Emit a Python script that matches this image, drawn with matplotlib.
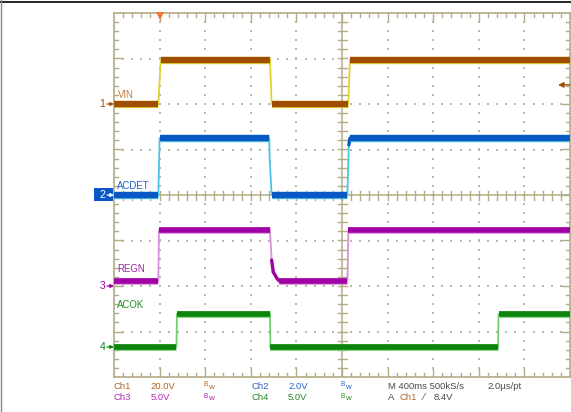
import matplotlib
matplotlib.use('Agg')
import matplotlib.pyplot as plt
import matplotlib.patheffects as pe
from matplotlib.lines import Line2D
from matplotlib.patches import Rectangle
import numpy as np

W, H, DPI = 571, 412, 100
plt.rcParams['font.family'] = ['Liberation Sans', 'DejaVu Sans']

# ---------------- data (time in ms from trigger, volts) ----------------
vin_t = [-400, -11, 10, 968, 983, 1655, 1670, 3600]
vin_v = [0.0, 0.0, 19.5, 19.5, 0.0, 0.0, 19.5, 19.5]

acdet_t = [-400, -11, 0, 962, 966, 983, 1647, 1660, 1670, 3600]
acdet_v = [0.0, 0.0, 2.5, 2.5, 1.5, 0.0, 0.0, 2.2, 2.5, 2.5]

regn_t = [-400, -11, -6, 968, 983, 997, 1027, 1045, 1648, 1656, 3600]
regn_v = [0.55, 0.55, 6.1, 6.1, 2.85, 1.55, 0.88, 0.6, 0.6, 6.1, 6.1]

acok_t = [-400, 148, 152, 968, 972, 2969, 2973, 3600]
acok_v = [0.0, 0.0, 3.6, 3.6, 0.0, 0.0, 3.6, 3.6]

channel_names = ["VIN", "ACDET", "REGN", "ACOK"]
volts_per_div = [20.0, 2.0, 5.0, 5.0]
offset_div = [2.0, 0.0, -2.0, -3.34]
trigger_level_v = 8.4
time_per_div_ms = 400.0

# --------------------------- figure ------------------------------------
fig = plt.figure(figsize=(W / DPI, H / DPI), dpi=DPI, facecolor='white')
L, R, T, B = 114, 570, 13, 377
ax = fig.add_axes([L / W, (H - B) / H, (R - L) / W, (B - T) / H])
ax.set_xlim(-400, 3600)
ax.set_ylim(-4, 4)
ax.set_xticks([]); ax.set_yticks([])
ax.set_facecolor('white')
grid_c = '#b3ab86'
for s in ax.spines.values():
    s.set_color(grid_c); s.set_linewidth(1.2)

pxx = time_per_div_ms / ((R - L) / 10.0)   # ms per pixel
pxy = 1.0 / ((B - T) / 8.0)                # div per pixel

# dotted grid along major lines
xs_major = [-400 + k * time_per_div_ms for k in range(1, 10) if k != 5]
ys_major = [-4 + k for k in range(1, 8) if k != 4]
minor_x = np.arange(-400, 3600 + 1, time_per_div_ms / 5)
minor_y = np.arange(-4, 4.001, 0.2)
dx, dy = [], []
for xm in xs_major:
    for yv in minor_y[1:-1]:
        dx.append(xm); dy.append(yv)
for ym in ys_major:
    for xv in minor_x[1:-1]:
        dx.append(xv); dy.append(ym)
ax.scatter(dx, dy, s=1.2, marker='s', color='#b8b8a8', linewidths=0, zorder=1)

# center cross
ax.axvline(1600, color=grid_c, lw=1.1, zorder=1)
ax.axhline(0, color=grid_c, lw=1.1, zorder=1)
for xv in minor_x[1:-1]:
    ax.plot([xv, xv], [-4.5 * pxy, 4.5 * pxy], color=grid_c, lw=1.0, zorder=1)
for yv in minor_y[1:-1]:
    ax.plot([1600 - 4.5 * pxx, 1600 + 4.5 * pxx], [yv, yv], color=grid_c, lw=1.0, zorder=1)
# border ticks
for i, xv in enumerate(minor_x[1:-1], start=1):
    ln = 8 if i % 5 == 0 else 4
    ax.plot([xv, xv], [4, 4 - ln * pxy], color=grid_c, lw=1.0, zorder=1)
    ax.plot([xv, xv], [-4, -4 + ln * pxy], color=grid_c, lw=1.0, zorder=1)
for i, yv in enumerate(minor_y[1:-1], start=1):
    ln = 8 if i % 5 == 0 else 4
    ax.plot([-400, -400 + ln * pxx], [yv, yv], color=grid_c, lw=1.0, zorder=1)
    ax.plot([3600, 3600 - ln * pxx], [yv, yv], color=grid_c, lw=1.0, zorder=1)

# --------------------------- traces -------------------------------------
traces = [(vin_t, vin_v), (acdet_t, acdet_v), (regn_t, regn_v), (acok_t, acok_v)]
main_c = ['#a04e04', '#0a58c4', '#a000a4', '#0e840e']
edge_c = ['#e2d030', '#48c4e4', '#d890d8', '#70d070']
lws = [4.5, 4.5, 4.0, 4.0]
for idx in [3, 2, 1, 0]:
    t, v = traces[idx]
    y = [offset_div[idx] + vv / volts_per_div[idx] for vv in v]
    for k in range(len(t) - 1):
        seg_x = [t[k], t[k + 1]]
        seg_y = [y[k], y[k + 1]]
        slope = abs(y[k + 1] - y[k]) / max(t[k + 1] - t[k], 1e-9)
        if y[k] == y[k + 1]:
            ax.plot(seg_x, seg_y, color=main_c[idx], lw=lws[idx], solid_capstyle='butt', zorder=3,
                    path_effects=[pe.Stroke(linewidth=lws[idx] + 0.8, foreground=edge_c[idx]), pe.Normal()])
        elif slope < 0.02:
            ax.plot(seg_x, seg_y, color=main_c[idx], lw=2.4, solid_capstyle='round', zorder=3)
        else:
            ax.plot(seg_x, seg_y, color=edge_c[idx], lw=1.3, zorder=2)

# trigger markers
ax.plot([0], [4 - 2.5 * pxy], marker='v', ms=6, color='#f07a32', clip_on=False, zorder=5,
        markeredgewidth=0)
trig_y = offset_div[0] + trigger_level_v / volts_per_div[0]
ax.annotate('', xy=(3600 - 12 * pxx, trig_y), xytext=(3600, trig_y),
            arrowprops=dict(arrowstyle='-|>', color='#a04e04', lw=1.0,
                            mutation_scale=8, shrinkA=0, shrinkB=0), zorder=5)

# --------------------------- labels -------------------------------------
def ftxt(x, y, s, **kw):
    fig.text(x / W, 1 - y / H, s, **kw)

lab_c = ['#c07838', '#2060c8', '#a020a8', '#208a20']
lab_pos = [(118, 94.5), (116.5, 186), (117.5, 269.5), (116.5, 305)]
for name, (lx, ly), c in zip(channel_names, lab_pos, lab_c):
    ftxt(lx, ly, name, color=c, fontsize=6.9, va='center', ha='left')

# channel ground markers
mark_c = ['#a04e04', '#ffffff', '#a000a4', '#0e840e']
for idx in range(4):
    yp = (H - B) + (offset_div[idx] + 4) / pxy   # figure pixel y from bottom
    yt = H - yp
    if idx == 1:
        fig.patches.append(Rectangle((94 / W, (yp - 6.5) / H), 19.5 / W, 13 / H,
                                     transform=fig.transFigure, facecolor='#0a58c4',
                                     edgecolor='none', zorder=4))
    ftxt(105.5, yt, str(idx + 1), color=mark_c[idx], fontsize=7.5, va='center', ha='right', zorder=6)
    fig.add_artist(matplotlib.patches.FancyArrowPatch((107 / W, yp / H), (114 / W, yp / H),
                   transform=fig.transFigure, arrowstyle='-|>', mutation_scale=5,
                   color=mark_c[idx], lw=0.9, shrinkA=0, shrinkB=0, zorder=6))

# bottom readout
row1, row2 = 386.5, 397.5
fs = 6.8
c1, c2, c3, c4, cg = '#b4662a', '#2a64c8', '#b428b4', '#2a8a2a', '#4a4a4a'
ftxt(114, row1, 'Ch1', color=c1, fontsize=fs, va='center')
ftxt(150.5, row1, '20.0V', color=c1, fontsize=fs, va='center')
ftxt(251.5, row1, 'Ch2', color=c2, fontsize=fs, va='center')
ftxt(288, row1, '2.0V', color=c2, fontsize=fs, va='center')
ftxt(388, row1, 'M 400ms 500kS/s', color=cg, fontsize=fs, va='center')
ftxt(487.5, row1, '2.0µs/pt', color=cg, fontsize=fs, va='center')
ftxt(114, row2, 'Ch3', color=c3, fontsize=fs, va='center')
ftxt(150.5, row2, '5.0V', color=c3, fontsize=fs, va='center')
ftxt(251.5, row2, 'Ch4', color=c4, fontsize=fs, va='center')
ftxt(288, row2, '5.0V', color=c4, fontsize=fs, va='center')
ftxt(388, row2, 'A', color=cg, fontsize=fs, va='center')
ftxt(399, row2, 'Ch1', color=c1, fontsize=fs, va='center')
ftxt(423, row2, '⁄', color=cg, fontsize=fs, va='center', family=['DejaVu Sans'])
ftxt(434, row2, '8.4V', color=cg, fontsize=fs, va='center')
for (bx, by, bc) in [(204, row1, c1), (340.5, row1, c2), (204, row2, c3), (340.5, row2, c4)]:
    ftxt(bx, by - 1.5, 'B', color=bc, fontsize=4.8, va='center')
    ftxt(bx + 4.3, by + 0.8, 'w', color=bc, fontsize=5.8, va='center')

# outer frame lines
fig.add_artist(Line2D([0, 1], [1 - 1.7 / H, 1 - 1.7 / H], color='black', lw=1.2, transform=fig.transFigure))
fig.add_artist(Line2D([0.7 / W, 0.7 / W], [0, 1], color='#8a8a8a', lw=1.0, transform=fig.transFigure))

fig.savefig('out.png', dpi=DPI, facecolor='white')
